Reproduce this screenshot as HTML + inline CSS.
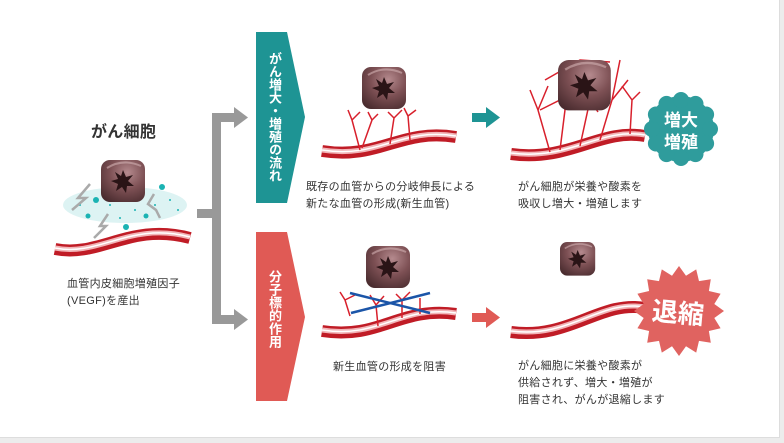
<!DOCTYPE html>
<html><head><meta charset="utf-8">
<style>
html,body{margin:0;padding:0;background:#ececec;}
body{width:784px;height:443px;overflow:hidden;position:relative;font-family:"Liberation Sans","Noto Sans CJK JP",sans-serif;}
#frame{position:absolute;left:0;top:0;width:779px;height:437px;background:#fff;border-right:1px solid #ddd;border-bottom:1px solid #ddd;}
.t{position:absolute;font-size:11px;color:#333;line-height:17px;white-space:nowrap;letter-spacing:0.3px}
.v{position:absolute;color:#fff;font-weight:bold;font-size:13px;writing-mode:vertical-rl;letter-spacing:0px;line-height:14px}
</style></head><body>
<div id="frame"></div>
<svg width="784" height="443" style="position:absolute;left:0;top:0">
<defs>
<radialGradient id="cg" cx="0.6" cy="0.3" r="0.8">
<stop offset="0" stop-color="#b58a8e"/><stop offset="0.5" stop-color="#7d5054"/><stop offset="1" stop-color="#4a2c2f"/>
</radialGradient>
<g id="cube">
<rect x="0" y="0" width="44" height="42" rx="9" fill="url(#cg)"/>
<path d="M6 8 Q22 -2 40 6" stroke="#d2b0b3" stroke-width="2" fill="none" opacity="0.6"/>
<polygon points="22,10 25,17 32,15 27,21 33,26 26,26 25,33 21,27 15,31 17,24 10,21 17,19 14,12 20,16" fill="#2a1416"/>
</g>
<g id="vs">
</g>
</defs>
<!-- gray connector -->
<g fill="#999">
<rect x="197" y="209" width="20" height="9"/>
<rect x="212" y="113" width="9" height="211"/>
<rect x="212" y="113" width="23" height="9"/>
<rect x="212" y="315" width="23" height="9"/>
<polygon points="234,107 248,117.5 234,128"/>
<polygon points="234,309 248,319.5 234,330"/>
</g>
<polygon points="256,32 287,32 305,117 287,203 256,203" fill="#1e9494"/>
<polygon points="256,232 287,232 305,317 287,401 256,401" fill="#e05a55"/>
<rect x="472" y="113" width="16" height="9" fill="#1e9494"/><polygon points="486,107 500,117.5 486,128" fill="#1e9494"/>
<rect x="472" y="313" width="16" height="9" fill="#e05a55"/><polygon points="486,307 500,317.5 486,328" fill="#e05a55"/>

<!-- left dots -->
<g fill="#9fdede" opacity="0.35"><ellipse cx="125" cy="205" rx="62" ry="18"/></g>
<g fill="#1bb3b3">
<circle cx="96" cy="200" r="3"/><circle cx="162" cy="187" r="3"/><circle cx="88" cy="216" r="2.5"/><circle cx="146" cy="216" r="2.5"/><circle cx="126" cy="227" r="3"/>
<circle cx="110" cy="205" r="1"/><circle cx="135" cy="210" r="1"/><circle cx="170" cy="200" r="1"/><circle cx="80" cy="205" r="1"/><circle cx="155" cy="205" r="1"/><circle cx="120" cy="218" r="1"/><circle cx="178" cy="210" r="1"/>
</g>
<g stroke="#aaa" stroke-width="2.5" fill="none">
<polyline points="90,184 78,198 86,198 72,210"/><polyline points="108,214 100,226 106,226 94,238"/><polyline points="154,194 148,204 156,210 160,218"/>
</g>
<!-- vessels -->
<g fill="none">
<g id="v1"><path d="M55 249 C100 258 130 222 190 238" stroke="#c01c26" stroke-width="12"/><path d="M55 248 C100 257 130 221 190 237" stroke="#f2b5b8" stroke-width="5"/><path d="M55 248 C100 257 130 221 190 237" stroke="#fff" stroke-width="1.5"/></g>
<path d="M322 151 C380 160 400 128 456 137" stroke="#c01c26" stroke-width="12"/><path d="M322 150 C380 159 400 127 456 136" stroke="#f2b5b8" stroke-width="5"/><path d="M322 150 C380 159 400 127 456 136" stroke="#fff" stroke-width="1.5"/>
<path d="M511 154 C570 162 600 128 645 136" stroke="#c01c26" stroke-width="12"/><path d="M511 153 C570 161 600 127 645 135" stroke="#f2b5b8" stroke-width="5"/><path d="M511 153 C570 161 600 127 645 135" stroke="#fff" stroke-width="1.5"/>
<path d="M322 331 C380 340 400 306 456 314" stroke="#c01c26" stroke-width="12"/><path d="M322 330 C380 339 400 305 456 313" stroke="#f2b5b8" stroke-width="5"/><path d="M322 330 C380 339 400 305 456 313" stroke="#fff" stroke-width="1.5"/>
<path d="M511 332 C570 340 600 300 645 308" stroke="#c01c26" stroke-width="12"/><path d="M511 331 C570 339 600 299 645 307" stroke="#f2b5b8" stroke-width="5"/><path d="M511 331 C570 339 600 299 645 307" stroke="#fff" stroke-width="1.5"/>
</g>
<g stroke="#d8202c" stroke-width="1.5" fill="none">
<path d="M360 150 L352 120 L348 110 M352 120 L360 112 M362 148 L372 120 L368 112 M372 120 L378 114"/>
<path d="M390 144 L394 118 L388 112 M394 118 L402 110 M410 140 L408 116 L404 108 M408 116 L416 110"/>
<path d="M350 316 L345 300 L340 292 M345 300 L355 295 M378 326 L376 305 L370 295 M376 305 L384 296 M402 318 L402 300 L396 294 M402 300 L410 292 M420 314 L420 298"/>
<path d="M550 152 L538 110 L530 90 M538 110 L548 86 M560 150 L565 110 L560 80 M565 110 L590 70 M580 146 L590 100 L610 70 M590 100 L598 112 M600 140 L612 100 L620 60 M612 100 L628 80 M630 134 L632 100 L622 86 M632 100 L640 92 M540 110 L560 100 L585 95 M545 80 L580 60 L610 62"/>
</g>
<g stroke="#1b55a8" stroke-width="2.5"><line x1="350" y1="293" x2="430" y2="313"/><line x1="351" y1="313" x2="430" y2="293"/></g>
<use href="#cube" transform="translate(101,160)"/>
<use href="#cube" transform="translate(362,67)"/>
<use href="#cube" transform="translate(558,60) scale(1.2)"/>
<use href="#cube" transform="translate(366,246)"/>
<use href="#cube" transform="translate(560,242) scale(0.8)"/>
<g id="badge" fill="#2f9c9c"><circle cx="681" cy="129" r="33"/></g>
<text x="681" y="126" fill="#fff" font-size="17" font-weight="bold" text-anchor="middle" font-family="Liberation Sans,Noto Sans CJK JP,sans-serif">増大</text>
<text x="681" y="148" fill="#fff" font-size="17" font-weight="bold" text-anchor="middle" font-family="Liberation Sans,Noto Sans CJK JP,sans-serif">増殖</text>
<polygon id="star" fill="#e06360" points=""/>
<text x="678" y="322" fill="#fff" font-size="26" font-weight="bold" text-anchor="middle" transform="rotate(5 678 312)" font-family="Liberation Sans,Noto Sans CJK JP,sans-serif">退縮</text>
</svg>
<script>
var p=[],cx=679,cy=311,n=16;
for(var i=0;i<2*n;i++){var r=i%2?36:45,a=Math.PI*i/n;p.push((cx+r*Math.cos(a)).toFixed(1)+","+(cy+r*Math.sin(a)).toFixed(1));}
document.getElementById("star").setAttribute("points",p.join(" "));
var b=document.getElementById("badge");
for(var i=0;i<12;i++){var a=2*Math.PI*i/12,c=document.createElementNS("http://www.w3.org/2000/svg","circle");c.setAttribute("cx",681+29*Math.cos(a));c.setAttribute("cy",129+29*Math.sin(a));c.setAttribute("r",8);b.appendChild(c);}
</script>
<div class="t" style="left:91px;top:124px;font-size:16px;font-weight:bold;color:#333">がん細胞</div>
<div class="t" style="left:67px;top:276px">血管内皮細胞増殖因子<br>(VEGF)を産出</div>
<div class="v" style="left:267px;top:52px">がん増大・増殖の流れ</div>
<div class="v" style="left:267px;top:270px">分子標的作用</div>
<div class="t" style="left:306px;top:179px">既存の血管からの分岐伸長による<br>新たな血管の形成(新生血管)</div>
<div class="t" style="left:518px;top:179px">がん細胞が栄養や酸素を<br>吸収し増大・増殖します</div>
<div class="t" style="left:333px;top:359px">新生血管の形成を阻害</div>
<div class="t" style="left:518px;top:358px">がん細胞に栄養や酸素が<br>供給されず、増大・増殖が<br>阻害され、がんが退縮します</div>
</body></html>
